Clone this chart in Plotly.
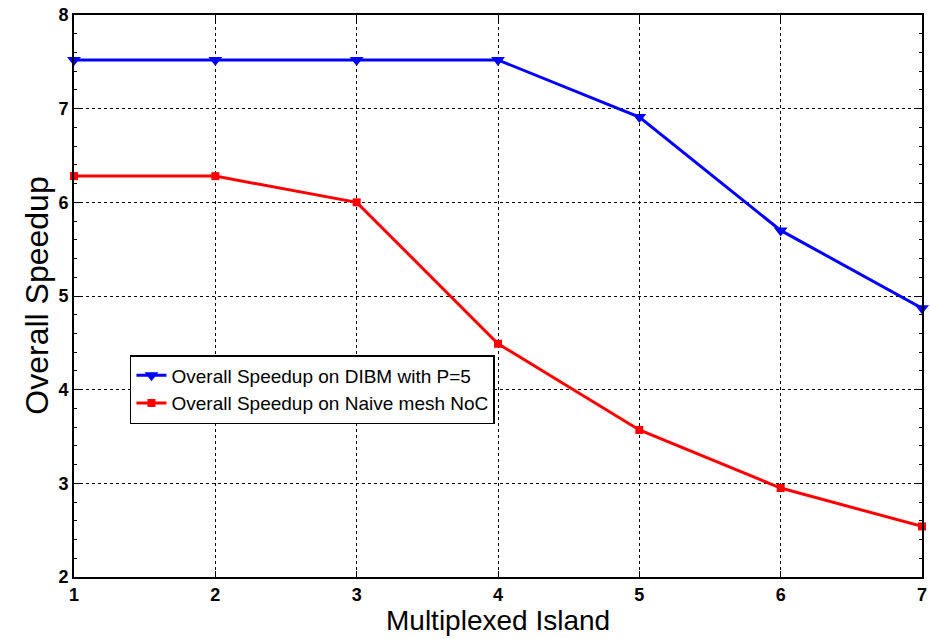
import plotly.graph_objects as go

islands = [1, 2, 3, 4, 5, 6, 7]
speedup_dibm = [7.52, 7.52, 7.52, 7.52, 6.91, 5.70, 4.87]
speedup_naive = [6.28, 6.28, 6.00, 4.49, 3.57, 2.95, 2.54]

x_ticks = [1, 2, 3, 4, 5, 6, 7]
y_ticks = [2, 3, 4, 5, 6, 7, 8]

x_title = "Multiplexed Island"
y_title = "Overall Speedup"

fig = go.Figure()
fig.add_trace(go.Scatter(
    x=islands, y=speedup_dibm, mode="lines+markers",
    name="Overall Speedup on DIBM with P=5",
    line=dict(color="#0000ff", width=3),
    marker=dict(symbol="triangle-down", size=12, color="#0000ff"),
    cliponaxis=False,
))
fig.add_trace(go.Scatter(
    x=islands, y=speedup_naive, mode="lines+markers",
    name="Overall Speedup on Naive mesh NoC",
    line=dict(color="#ff0000", width=3),
    marker=dict(symbol="square", size=8, color="#ff0000"),
    cliponaxis=False,
))

tick_font = dict(family="Arial, Liberation Sans", size=18, color="black", weight=700)
title_font = dict(family="Arial, Liberation Sans", size=28, color="black")

axis_common = dict(
    showline=True, linecolor="black", linewidth=2, mirror="ticks",
    ticks="inside", ticklen=6, tickcolor="black", tickwidth=1,
    showgrid=True, gridcolor="black", griddash="dot", gridwidth=1,
    zeroline=False, automargin=False,
    tickfont=tick_font,
)

fig.update_xaxes(range=[1, 7], tickvals=x_ticks, ticklabelstandoff=0, **axis_common)
fig.update_yaxes(
    range=[2, 8], tickvals=y_ticks, ticklabelstandoff=0,
    minor=dict(ticks="inside", ticklen=3, tickcolor="black", dtick=0.2, showgrid=False),
    **axis_common,
)

# axis titles placed as annotations so they sit just below / left of the tick labels
fig.add_annotation(text=x_title, xref="paper", yref="paper", x=0.5, y=-0.078,
                   xanchor="center", yanchor="middle", showarrow=False, font=title_font)
fig.add_annotation(text=y_title, xref="paper", yref="paper", x=-0.044, y=0.5,
                   xanchor="center", yanchor="middle", textangle=-90, showarrow=False,
                   font=dict(family="Arial, Liberation Sans", size=32, color="black"))

fig.update_layout(
    width=930, height=639,
    margin=dict(l=74, r=8, t=15, b=62),
    plot_bgcolor="white", paper_bgcolor="white",
    legend=dict(
        x=0.066, y=0.395, xanchor="left", yanchor="top",
        bgcolor="white", bordercolor="black", borderwidth=1.5,
        font=dict(family="Arial, Liberation Sans", size=19, color="black"),
        tracegroupgap=0, itemwidth=30,
    ),
)

fig.write_html("out.html")
